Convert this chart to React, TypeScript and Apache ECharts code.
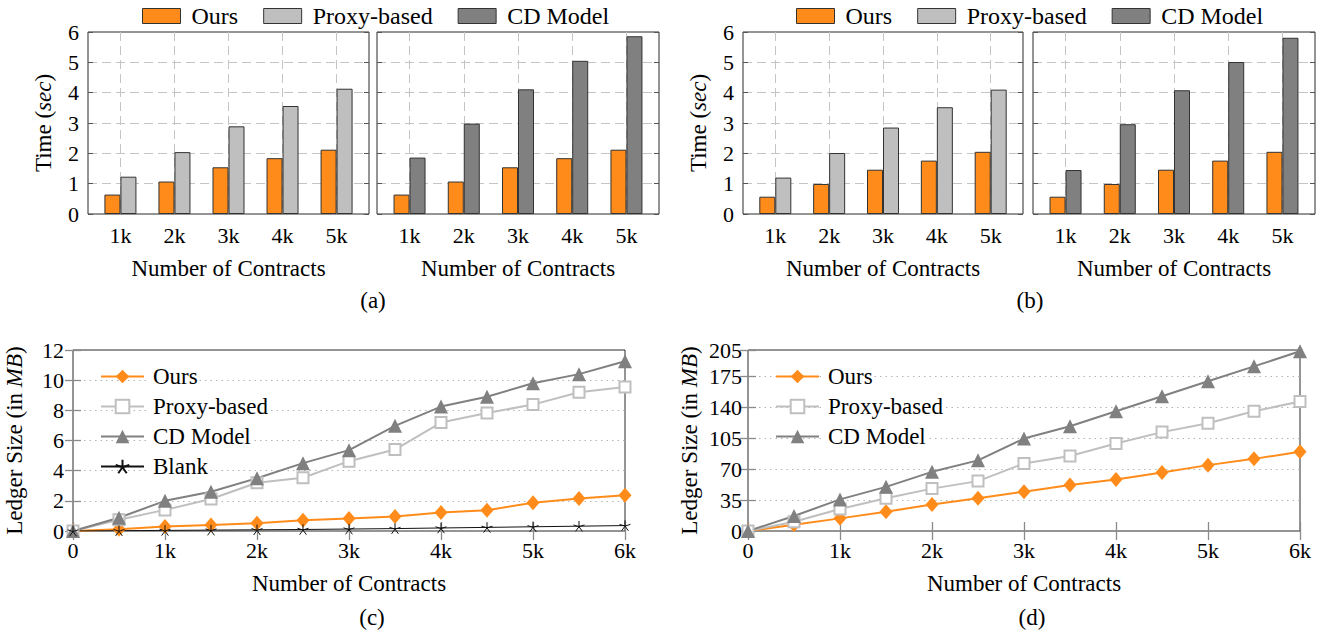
import React, { useEffect, useRef } from 'react';
import * as echarts from 'echarts';

// ---------- data ----------
const barK = [1, 2, 3, 4, 5];
const aOurs = [0.64, 1.07, 1.54, 1.84, 2.12];
const aProxy = [1.23, 2.04, 2.89, 3.56, 4.13];
const aCD = [1.86, 2.98, 4.11, 5.05, 5.86];
const bOurs = [0.57, 0.99, 1.46, 1.76, 2.05];
const bProxy = [1.2, 2.01, 2.85, 3.52, 4.1];
const bCD = [1.45, 2.96, 4.08, 5.01, 5.81];

const contracts = [0, 500, 1000, 1500, 2000, 2500, 3000, 3500, 4000, 4500, 5000, 5500, 6000];
const cOurs = [0, 0.12, 0.3, 0.4, 0.52, 0.72, 0.83, 0.96, 1.22, 1.38, 1.87, 2.15, 2.37];
const cProxy = [0, 0.75, 1.4, 2.12, 3.2, 3.53, 4.63, 5.4, 7.19, 7.83, 8.38, 9.2, 9.55];
const cCD = [0, 0.88, 2.0, 2.6, 3.5, 4.5, 5.36, 6.97, 8.25, 8.9, 9.8, 10.4, 11.25];
const cBlank = [0, 0.02, 0.04, 0.06, 0.08, 0.1, 0.13, 0.16, 0.2, 0.24, 0.28, 0.32, 0.36];
const dOurs = [0, 7, 14.3, 21.9, 30, 37, 44.5, 52, 58.4, 66.3, 74.6, 81.7, 89.7];
const dProxy = [0, 10.5, 25, 37, 48, 56.5, 76.5, 85, 99, 112, 122, 135.6, 146.6];
const dCD = [0, 17, 35.8, 50, 67, 80, 104.7, 118.7, 135.6, 152.6, 169.6, 186.5, 203.5];

const barLegendNames = ['Ours', 'Proxy-based', 'CD Model'];
const captions = ['(a)', '(b)', '(c)', '(d)'];

// ---------- styles ----------
const FONT = 'Liberation Serif';
const ORANGE = '#ff8c1a';
const LIGHT = '#bfbfbf';
const DARK = '#808080';
const STAR = 'path://M0 0L0 -1M0 0L0.951 -0.309M0 0L0.588 0.809M0 0L-0.588 0.809M0 0L-0.951 -0.309';

const grids = [
  { left: 88, top: 32, width: 281, height: 182 },
  { left: 377, top: 32, width: 282, height: 182 },
  { left: 743, top: 32, width: 280, height: 182 },
  { left: 1033, top: 32, width: 282, height: 182 },
  { left: 73, top: 350, width: 552, height: 181 },
  { left: 748, top: 350, width: 552, height: 181 },
];

const richT = (size: number) => ({
  t: { fontFamily: FONT, fontSize: size, color: '#000' },
  i: { fontFamily: FONT, fontSize: size, fontStyle: 'italic', color: '#000' },
});
const labelStyle = { fontFamily: FONT, fontSize: 22, color: '#000' };
const nameStyle = () => ({ fontFamily: FONT, fontSize: 23, color: '#000', rich: richT(23) });

function buildOption() {
  const xAxis: any[] = [];
  const yAxis: any[] = [];
  const series: any[] = [];

  const isInt = (v: number) => Math.abs(v - Math.round(v)) < 1e-6;

  // ---- bar panels ----
  const barSets = [
    { g: 0, a: aOurs, b: aProxy, bName: 'Proxy-based', bColor: LIGHT, left: true },
    { g: 1, a: aOurs, b: aCD, bName: 'CD Model', bColor: DARK, left: false },
    { g: 2, a: bOurs, b: bProxy, bName: 'Proxy-based', bColor: LIGHT, left: true },
    { g: 3, a: bOurs, b: bCD, bName: 'CD Model', bColor: DARK, left: false },
  ];
  barSets.forEach((s) => {
    const xi = xAxis.length;
    xAxis.push({
      type: 'value', gridIndex: s.g, min: 0.4, max: 5.6, splitNumber: 5,
      axisLine: { show: false }, axisTick: { show: false },
      axisLabel: { ...labelStyle, margin: 10, formatter: (v: number) => (isInt(v) ? Math.round(v) + 'k' : '') },
      splitLine: { show: true, showMinLine: false, showMaxLine: false, lineStyle: { type: [9, 5], color: '#c4c4c4', width: 1 } },
      name: 'Number of Contracts', nameLocation: 'middle', nameGap: 43, nameTextStyle: nameStyle(),
    });
    const yi = yAxis.length;
    yAxis.push({
      type: 'value', gridIndex: s.g, min: 0, max: 6, interval: 1,
      axisLine: { show: false },
      axisTick: { show: true, inside: true, length: 5, lineStyle: { color: '#555' } },
      axisLabel: { show: s.left, ...labelStyle, margin: 9 },
      splitLine: { show: true, showMinLine: false, showMaxLine: false, lineStyle: { type: [9, 5], color: '#c4c4c4', width: 1 } },
      ...(s.left ? { name: '{t|Time (}{i|sec}{t|)}', nameLocation: 'middle', nameRotate: 90, nameGap: 33, nameTextStyle: nameStyle() } : {}),
    });
    yAxis.push({
      type: 'value', gridIndex: s.g, position: 'right', min: 0, max: 6, interval: 1,
      axisLine: { show: false },
      axisTick: { show: true, inside: true, length: 5, lineStyle: { color: '#555' } },
      axisLabel: { show: false }, splitLine: { show: false },
    });
    series.push({
      type: 'bar', name: 'Ours', xAxisIndex: xi, yAxisIndex: yi,
      data: barK.map((k, i) => [k, s.a[i]]), barWidth: 16, barGap: '0%',
      itemStyle: { color: ORANGE, borderColor: '#333', borderWidth: 1 },
    });
    series.push({
      type: 'bar', name: s.bName, xAxisIndex: xi, yAxisIndex: yi,
      data: barK.map((k, i) => [k, s.b[i]]), barWidth: 16, barGap: '0%',
      itemStyle: { color: s.bColor, borderColor: '#333', borderWidth: 1 },
    });
  });

  // ---- line panels ----
  const lineSets = [
    { g: 4, max: 12, interval: 2, ours: cOurs, proxy: cProxy, cd: cCD, blank: cBlank, margin: 9 },
    { g: 5, max: 205, interval: 35, ours: dOurs, proxy: dProxy, cd: dCD, blank: null as number[] | null, margin: 6 },
  ];
  lineSets.forEach((s) => {
    const xi = xAxis.length;
    xAxis.push({
      type: 'value', gridIndex: s.g, min: 0, max: 6000, interval: 1000,
      axisLine: { show: false },
      axisTick: { show: true, inside: true, length: 9, lineStyle: { color: '#8a8a8a', width: 1.3 } },
      axisLabel: { ...labelStyle, margin: 8, formatter: (v: number) => (v === 0 ? '0' : v / 1000 + 'k') },
      splitLine: { show: false },
      name: 'Number of Contracts', nameLocation: 'middle', nameGap: 41, nameTextStyle: nameStyle(),
    });
    xAxis.push({
      type: 'value', gridIndex: s.g, position: 'top', min: 0, max: 6000, interval: 1000,
      axisLine: { show: false },
      axisTick: { show: true, inside: true, length: 9, lineStyle: { color: '#8a8a8a', width: 1.3 } },
      axisLabel: { show: false }, splitLine: { show: false },
    });
    const yi = yAxis.length;
    yAxis.push({
      type: 'value', gridIndex: s.g, min: 0, max: s.max, interval: s.interval,
      axisLine: { show: false },
      axisTick: { show: true, inside: true, length: 8, lineStyle: { color: '#8a8a8a', width: 1.3 } },
      axisLabel: { ...labelStyle, margin: s.margin },
      splitLine: { show: true, showMinLine: false, showMaxLine: false, lineStyle: { type: [1.5, 4], color: '#b5b5b5', width: 1 } },
      name: '{t|Ledger Size (in }{i|MB}{t|)}', nameLocation: 'middle', nameRotate: 90, nameGap: 47, nameTextStyle: nameStyle(),
    });
    yAxis.push({
      type: 'value', gridIndex: s.g, position: 'right', min: 0, max: s.max, interval: s.interval,
      axisLine: { show: false },
      axisTick: { show: true, inside: true, length: 8, lineStyle: { color: '#8a8a8a', width: 1.3 } },
      axisLabel: { show: false }, splitLine: { show: false },
    });
    const pts = (arr: number[]) => contracts.map((x, i) => [x, arr[i]]);
    series.push({
      type: 'line', name: 'Ours#l', xAxisIndex: xi, yAxisIndex: yi, data: pts(s.ours),
      symbol: 'diamond', symbolSize: [13, 15], lineStyle: { color: ORANGE, width: 2 },
      itemStyle: { color: ORANGE },
    });
    series.push({
      type: 'line', name: 'Proxy-based#l', xAxisIndex: xi, yAxisIndex: yi, data: pts(s.proxy),
      symbol: 'rect', symbolSize: 11, lineStyle: { color: LIGHT, width: 2 },
      itemStyle: { color: '#fff', borderColor: LIGHT, borderWidth: 2 },
    });
    series.push({
      type: 'line', name: 'CD Model#l', xAxisIndex: xi, yAxisIndex: yi, data: pts(s.cd),
      symbol: 'triangle', symbolSize: 14, lineStyle: { color: DARK, width: 2 },
      itemStyle: { color: DARK },
    });
    if (s.blank) {
      series.push({
        type: 'line', name: 'Blank#l', xAxisIndex: xi, yAxisIndex: yi, data: pts(s.blank),
        symbol: STAR, symbolSize: 11, symbolKeepAspect: true, lineStyle: { color: '#111', width: 1 },
        itemStyle: { color: '#111', borderColor: '#111', borderWidth: 1 },
      });
    }
  });

  const barLegend = (left: number) => ({
    left, top: 4, padding: 0, orient: 'horizontal', icon: 'rect', itemWidth: 38, itemHeight: 15, itemGap: 25,
    selectedMode: false,
    itemStyle: { borderColor: '#333', borderWidth: 1 },
    textStyle: { fontFamily: FONT, fontSize: 24, color: '#000', padding: [0, 0, 0, 6] },
    data: barLegendNames,
  });
  const lineLegend = (left: number, names: string[]) => ({
    left, top: 365, padding: 0, orient: 'vertical', itemWidth: 43, itemHeight: 17, itemGap: 7,
    selectedMode: false,
    formatter: (n: string) => n.split('#')[0],
    textStyle: { fontFamily: FONT, fontSize: 23, color: '#000', padding: [0, 0, 0, 4], backgroundColor: '#fff' },
    data: names,
  });

  const capPos = [[373, 300], [1030, 300], [372, 617], [1032, 617]];
  const graphic = captions.map((c, i) => ({
    type: 'text', x: capPos[i][0], y: capPos[i][1],
    style: { text: c, font: `23px "${FONT}"`, fill: '#000', textAlign: 'center', textVerticalAlign: 'middle' },
  }));

  return {
    animation: false,
    backgroundColor: '#fff',
    textStyle: { fontFamily: FONT },
    grid: grids.map((g) => ({ ...g, show: true, borderColor: '#2a2a2a', borderWidth: 1, backgroundColor: 'transparent', containLabel: false })),
    xAxis, yAxis, series,
    legend: [
      barLegend(142),
      barLegend(796),
      lineLegend(100, ['Ours#l', 'Proxy-based#l', 'CD Model#l', 'Blank#l']),
      lineLegend(775, ['Ours#l', 'Proxy-based#l', 'CD Model#l']),
    ],
    graphic,
  };
}

export default function App() {
  const ref = useRef<HTMLDivElement>(null);
  useEffect(() => {
    if (!ref.current) return;
    const chart = echarts.init(ref.current, undefined, { renderer: 'svg' });
    chart.setOption(buildOption() as any);
    return () => chart.dispose();
  }, []);
  return <div ref={ref} style={{ position: 'fixed', left: 0, top: 0, width: 1325, height: 637, background: '#fff' }} />;
}
